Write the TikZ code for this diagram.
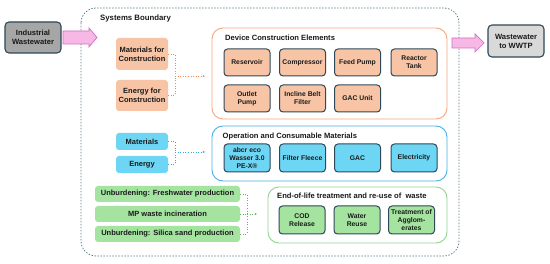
\documentclass[tikz,border=0pt]{standalone}
\usepackage{fontspec}
\setmainfont{Liberation Sans}
\usetikzlibrary{arrows.meta}
\definecolor{bdr}{HTML}{2F4858}
\definecolor{peach}{HTML}{F8C4A6}
\definecolor{orcont}{HTML}{F4A57E}
\definecolor{ordot}{HTML}{F28A50}
\definecolor{bluefill}{HTML}{6DD6F4}
\definecolor{bluecont}{HTML}{4AB0E4}
\definecolor{bluedot}{HTML}{31A9DD}
\definecolor{greenfill}{HTML}{A4E3A0}
\definecolor{greencont}{HTML}{93D392}
\definecolor{greendot}{HTML}{5DB85D}
\definecolor{darkgrey}{HTML}{A6A6A6}
\definecolor{lightgrey}{HTML}{D9D9D9}
\definecolor{pinkfill}{HTML}{F7B8E6}
\definecolor{pinkdraw}{HTML}{D070C0}
\definecolor{bnd}{HTML}{5B7A8C}
\definecolor{txt}{HTML}{1A1A1A}
\begin{document}
\begin{tikzpicture}[x=1pt,y=-1pt,
  every node/.style={text=txt, font=\bfseries},
  inner/.style={draw=bdr, line width=1pt, rounded corners=3.5pt, minimum width=46pt, minimum height=27pt, inner sep=1pt, align=center, font=\fontsize{6.8pt}{8pt}\selectfont\bfseries},
  src/.style={rounded corners=3pt, inner sep=1pt, align=center, font=\fontsize{7.5pt}{9pt}\selectfont\bfseries},
  cont/.style={rounded corners=11pt, line width=0.9pt, fill=white},
  ttl/.style={anchor=west, inner sep=0pt, font=\fontsize{7.6pt}{9pt}\selectfont\bfseries},
  outer/.style={draw=bdr, line width=1.1pt, rounded corners=4pt, minimum width=56pt, minimum height=31pt, align=center, inner sep=1pt, font=\fontsize{7.6pt}{9pt}\selectfont\bfseries},
  conn/.style={line width=0.9pt, dash pattern=on 1pt off 1.6pt, -{Latex[length=2.2pt,width=2.4pt]}},
  seg/.style={line width=0.9pt, dash pattern=on 1pt off 1.6pt},
  parrow/.style={fill=pinkfill, draw=pinkdraw, line width=0.7pt, line join=miter}
]
\useasboundingbox (0,0) rectangle (550,264);
\fill[white] (0,0) rectangle (550,264);

% system boundary
\draw[bnd, line width=0.8pt, dash pattern=on 1.4pt off 1.6pt, rounded corners=15pt] (81,8) rectangle (459,256);
\node[ttl, font=\fontsize{7.8pt}{9pt}\selectfont\bfseries] (sbt) at (100,18) {Systems Boundary};

% outer nodes
\node[outer, fill=darkgrey] (ind) at (33,37.5) {Industrial\\Wastewater};
\node[outer, fill=lightgrey, minimum height=32pt] (wwtp) at (516,41) {Wastewater\\to WWTP};

% pink arrows
\draw[parrow] (63,31) -- (89,31) -- (89,28) -- (97,37.5) -- (89,47) -- (89,44) -- (63,44) -- cycle;
\draw[parrow] (452,38) -- (475,38) -- (475,34) -- (484,43) -- (475,52) -- (475,48) -- (452,48) -- cycle;

% containers
\draw[cont, draw=orcont] (212,28) rectangle (447,119);
\node[ttl] (devt) at (225,38) {Device Construction Elements};
\draw[cont, draw=bluecont] (212,126) rectangle (447,181);
\node[ttl] (opt) at (222.5,137) {Operation and Consumable Materials};
\draw[cont, draw=greencont] (268,187) rectangle (447,243);
\node[ttl] (eolt) at (277,196) {End-of-life treatment and re-use of\ \ waste};

% device inner boxes
\node[inner, fill=peach] (res) at (247,62.5) {Reservoir};
\node[inner, fill=peach] (comp) at (302.5,62.5) {Compressor};
\node[inner, fill=peach] (feed) at (357.5,62.5) {Feed Pump};
\node[inner, fill=peach] (reac) at (414,62.5) {Reactor\\Tank};
\node[inner, fill=peach] (outp) at (247,98.5) {Outlet\\Pump};
\node[inner, fill=peach] (incl) at (302.5,98.5) {Incline Belt\\Filter};
\node[inner, fill=peach] (gacu) at (357.5,98.5) {GAC Unit};

% operation inner boxes
\node[inner, fill=bluefill, minimum height=28pt] (abcr) at (247,158) {abcr eco\\Wasser 3.0\\PE-X\textregistered};
\node[inner, fill=bluefill, minimum height=28pt] (ffl) at (302.5,158) {Filter Fleece};
\node[inner, fill=bluefill, minimum height=28pt] (gac) at (357.5,158) {GAC};
\node[inner, fill=bluefill, minimum height=28pt] (elec) at (414,158) {Electricity};

% eol inner boxes
\node[inner, fill=greenfill, minimum height=28pt] (cod) at (302,220) {COD\\Release};
\node[inner, fill=greenfill, minimum height=28pt] (wre) at (357,220) {Water\\Reuse};
\node[inner, fill=greenfill, minimum height=28pt, inner sep=0pt] (agg) at (411.5,220) {Treatment of\\Agglom-\\erates};

% source boxes
\node[src, fill=peach, minimum width=52pt, minimum height=32pt] (matc) at (142,54) {Materials for\\Construction};
\node[src, fill=peach, minimum width=52pt, minimum height=31pt] (enc) at (142,95.5) {Energy for\\Construction};
\node[src, fill=bluefill, minimum width=52pt, minimum height=17pt] (mat) at (142,141.5) {Materials};
\node[src, fill=bluefill, minimum width=52pt, minimum height=17pt] (en) at (142,164.5) {Energy};
\node[src, fill=greenfill, minimum width=145pt, minimum height=16pt] (fw) at (167.5,194) {Unburdening: Freshwater production};
\node[src, fill=greenfill, minimum width=145pt, minimum height=16pt] (mp) at (167.5,214) {MP waste incineration};
\node[src, fill=greenfill, minimum width=145pt, minimum height=16pt] (si) at (167.5,234) {Unburdening: Silica sand production};

% connectors
\coordinate (oj) at (175,76);
\coordinate (oe) at (205,76);
\draw[seg, ordot] (matc.east) -| (oj);
\draw[seg, ordot] (enc.east) -| (oj);
\draw[conn, ordot] (oj) -- (oe);

\coordinate (bj) at (175,152);
\coordinate (be) at (205,152);
\draw[seg, bluedot] (mat.east) -| (bj);
\draw[seg, bluedot] (en.east) -| (bj);
\draw[conn, bluedot] (bj) -- (be);

\coordinate (gj) at (247,214);
\coordinate (ge) at (257,214);
\draw[seg, greendot] (fw.east) -| (gj);
\draw[seg, greendot] (si.east) -| (gj);
\draw[seg, greendot] (mp.east) -- (gj);
\draw[conn, greendot] (gj) -- (ge);
\end{tikzpicture}
\end{document}
